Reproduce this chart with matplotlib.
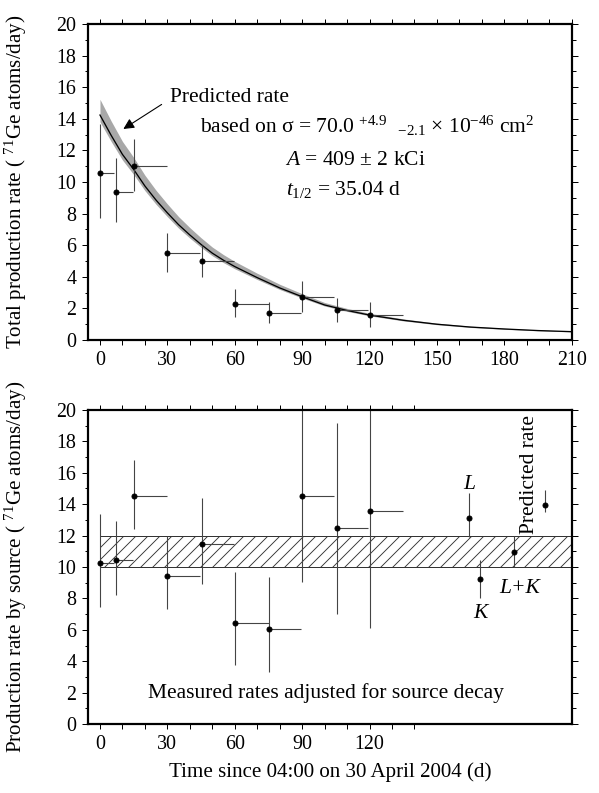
import numpy as np
import matplotlib
matplotlib.use('Agg')
import matplotlib.pyplot as plt

# 测量点：开始时间、区间宽度（天）
run_day = [0, 7.1, 15.1, 30.0, 45.3, 60.1, 75.2, 90.1, 105.4, 120.2]
run_width = [6.4, 7.4, 14.6, 14.5, 14.5, 15.1, 14.2, 14.3, 14.1, 14.6]

# 上图：总产生率
total_rate = [10.59, 9.39, 11.03, 5.53, 5.00, 2.28, 1.69, 2.74, 1.90, 1.58]
total_up = [13.70, 11.50, 12.70, 6.80, 6.00, 3.20, 2.38, 3.73, 2.68, 2.42]
total_lo = [7.75, 7.45, 9.45, 4.33, 3.97, 1.47, 1.05, 1.79, 1.16, 0.84]

# 预测曲线
pred_day = [0, 5, 10, 15, 20, 25, 30, 35, 40, 45, 50, 55, 60, 70, 80, 90,
            100, 110, 120, 135, 150, 165, 180, 195, 210]
pred_rate = [14.24, 12.95, 11.75, 10.80, 9.75, 8.85, 8.05, 7.30, 6.65, 6.05,
             5.50, 5.05, 4.65, 3.95, 3.30, 2.74, 2.22, 1.87, 1.58, 1.25,
             1.00, 0.82, 0.70, 0.60, 0.53]
sigma, sigma_plus, sigma_minus = 70.0, 4.9, 2.1

# 下图：源产生率
source_rate = [10.27, 10.46, 14.52, 9.45, 11.47, 6.45, 6.07, 14.52, 12.50, 13.57]
source_up = [13.40, 12.95, 16.80, 12.00, 14.37, 9.70, 9.38, 21.00, 19.15, 21.00]
source_lo = [7.43, 8.22, 12.40, 7.30, 8.90, 3.76, 3.33, 9.06, 6.99, 6.13]

# L, K, L+K, 预测值
extra_label = ['L', 'K', 'L+K', 'Predicted rate']
extra_day = [164.3, 169.2, 184.2, 198.1]
extra_rate = [13.14, 9.24, 10.97, 13.95]
extra_up = [14.70, 10.45, 12.00, 14.90]
extra_lo = [11.93, 8.04, 10.00, 13.50]

band_lo, band_hi = 10.0, 12.0

plt.rcParams['font.family'] = ['Liberation Serif', 'DejaVu Serif']
plt.rcParams['mathtext.fontset'] = 'custom'
plt.rcParams['mathtext.rm'] = 'Liberation Serif'
plt.rcParams['mathtext.it'] = 'Liberation Serif:italic'
plt.rcParams['hatch.linewidth'] = 0.9

fig = plt.figure(figsize=(599 / 72, 793 / 72), dpi=72)
ax1 = fig.add_axes([0.1474, 0.5712, 0.807, 0.3985])
ax2 = fig.add_axes([0.1474, 0.087, 0.807, 0.396])


def style_axes(ax, xmax_tick, xlabels_max):
    ax.set_xlim(-5.2, 210)
    ax.set_ylim(0, 20)
    ticks = list(range(0, xmax_tick + 1, 10))
    ax.set_xticks(ticks)
    ax.set_xticklabels([str(t) if t % 30 == 0 and t <= xlabels_max else '' for t in ticks])
    ax.set_yticks(range(0, 21, 2))
    ax.set_yticks(range(0, 21, 1), minor=True)
    ax.tick_params(which='both', direction='out', top=True, right=True, width=1,
                   labelsize=20, pad=6)
    ax.tick_params(axis='x', which='major', length=5)
    ax.tick_params(axis='y', which='major', length=6)
    ax.tick_params(axis='y', which='minor', length=3.5)
    for s in ax.spines.values():
        s.set_linewidth(2.2)


# 上图
pred = np.array(pred_rate)
ax1.fill_between(pred_day, pred * (sigma - sigma_minus) / sigma, pred * (sigma + sigma_plus) / sigma,
                 color='#a8a8a8', lw=0)
ax1.plot(pred_day, pred_rate, color='black', lw=1.3)
ax1.errorbar(run_day, total_rate, xerr=[np.zeros(len(run_day)), run_width],
             yerr=[np.array(total_rate) - np.array(total_lo), np.array(total_up) - np.array(total_rate)],
             fmt='o', ms=5, color='black', ecolor='#444444', elinewidth=1.1, capsize=0)
style_axes(ax1, 210, 210)
ax1.set_ylabel('Total production rate ( $^{71}$Ge atoms/day)', fontsize=21)
ax1.yaxis.set_label_coords(-0.123, 0.5)

ax1.text(31.2, 15.08, 'Predicted rate', fontsize=21.5)
ax1.annotate('', xy=(9.66, 13.29), xytext=(28.2, 14.98),
             arrowprops=dict(arrowstyle='-|>', color='black', lw=1.1, mutation_scale=22))
ax1.text(44.5, 13.12, 'based on σ = %.1f $^{+%.1f}$  $_{-%.1f}$ × 10$^{-46}$ cm$^{2}$'
         % (sigma, sigma_plus, sigma_minus), fontsize=21.5)
ax1.text(82.4, 11.08, '$A$ = 409 ± 2 kCi', fontsize=21.5)
ax1.text(82.8, 9.18, '$t_{\\mathrm{1/2}}$ = 35.04 d', fontsize=21.5)

# 下图
ax2.fill_between([0, 210], band_lo, band_hi, facecolor='white', edgecolor='#333333',
                 hatch='//', lw=1.0)
ax2.errorbar(run_day, source_rate, xerr=[np.zeros(len(run_day)), run_width],
             yerr=[np.array(source_rate) - np.array(source_lo), np.array(source_up) - np.array(source_rate)],
             fmt='o', ms=5, color='black', ecolor='#444444', elinewidth=1.1, capsize=0)
ax2.errorbar(extra_day, extra_rate,
             yerr=[np.array(extra_rate) - np.array(extra_lo), np.array(extra_up) - np.array(extra_rate)],
             fmt='o', ms=5, color='black', ecolor='#444444', elinewidth=1.1, capsize=0)
style_axes(ax2, 140, 120)
ax2.set_ylabel('Production rate by source ( $^{71}$Ge atoms/day)', fontsize=21)
ax2.yaxis.set_label_coords(-0.123, 0.5)
ax2.set_xlabel('Time since 04:00 on 30 April 2004 (d)', fontsize=21, labelpad=8)

ax2.text(164.3, 14.95, extra_label[0], fontsize=21.5, style='italic', ha='center')
ax2.text(169.2, 6.73, extra_label[1], fontsize=21.5, style='italic', ha='center')
ax2.text(186.7, 8.36, extra_label[2], fontsize=21.5, style='italic', ha='center')
ax2.text(191.4, 12.1, extra_label[3], fontsize=21.5, rotation=90, ha='center', va='bottom')
ax2.text(100.5, 1.64, 'Measured rates adjusted for source decay', fontsize=21.5, ha='center')

plt.savefig('out.png', dpi=72)
